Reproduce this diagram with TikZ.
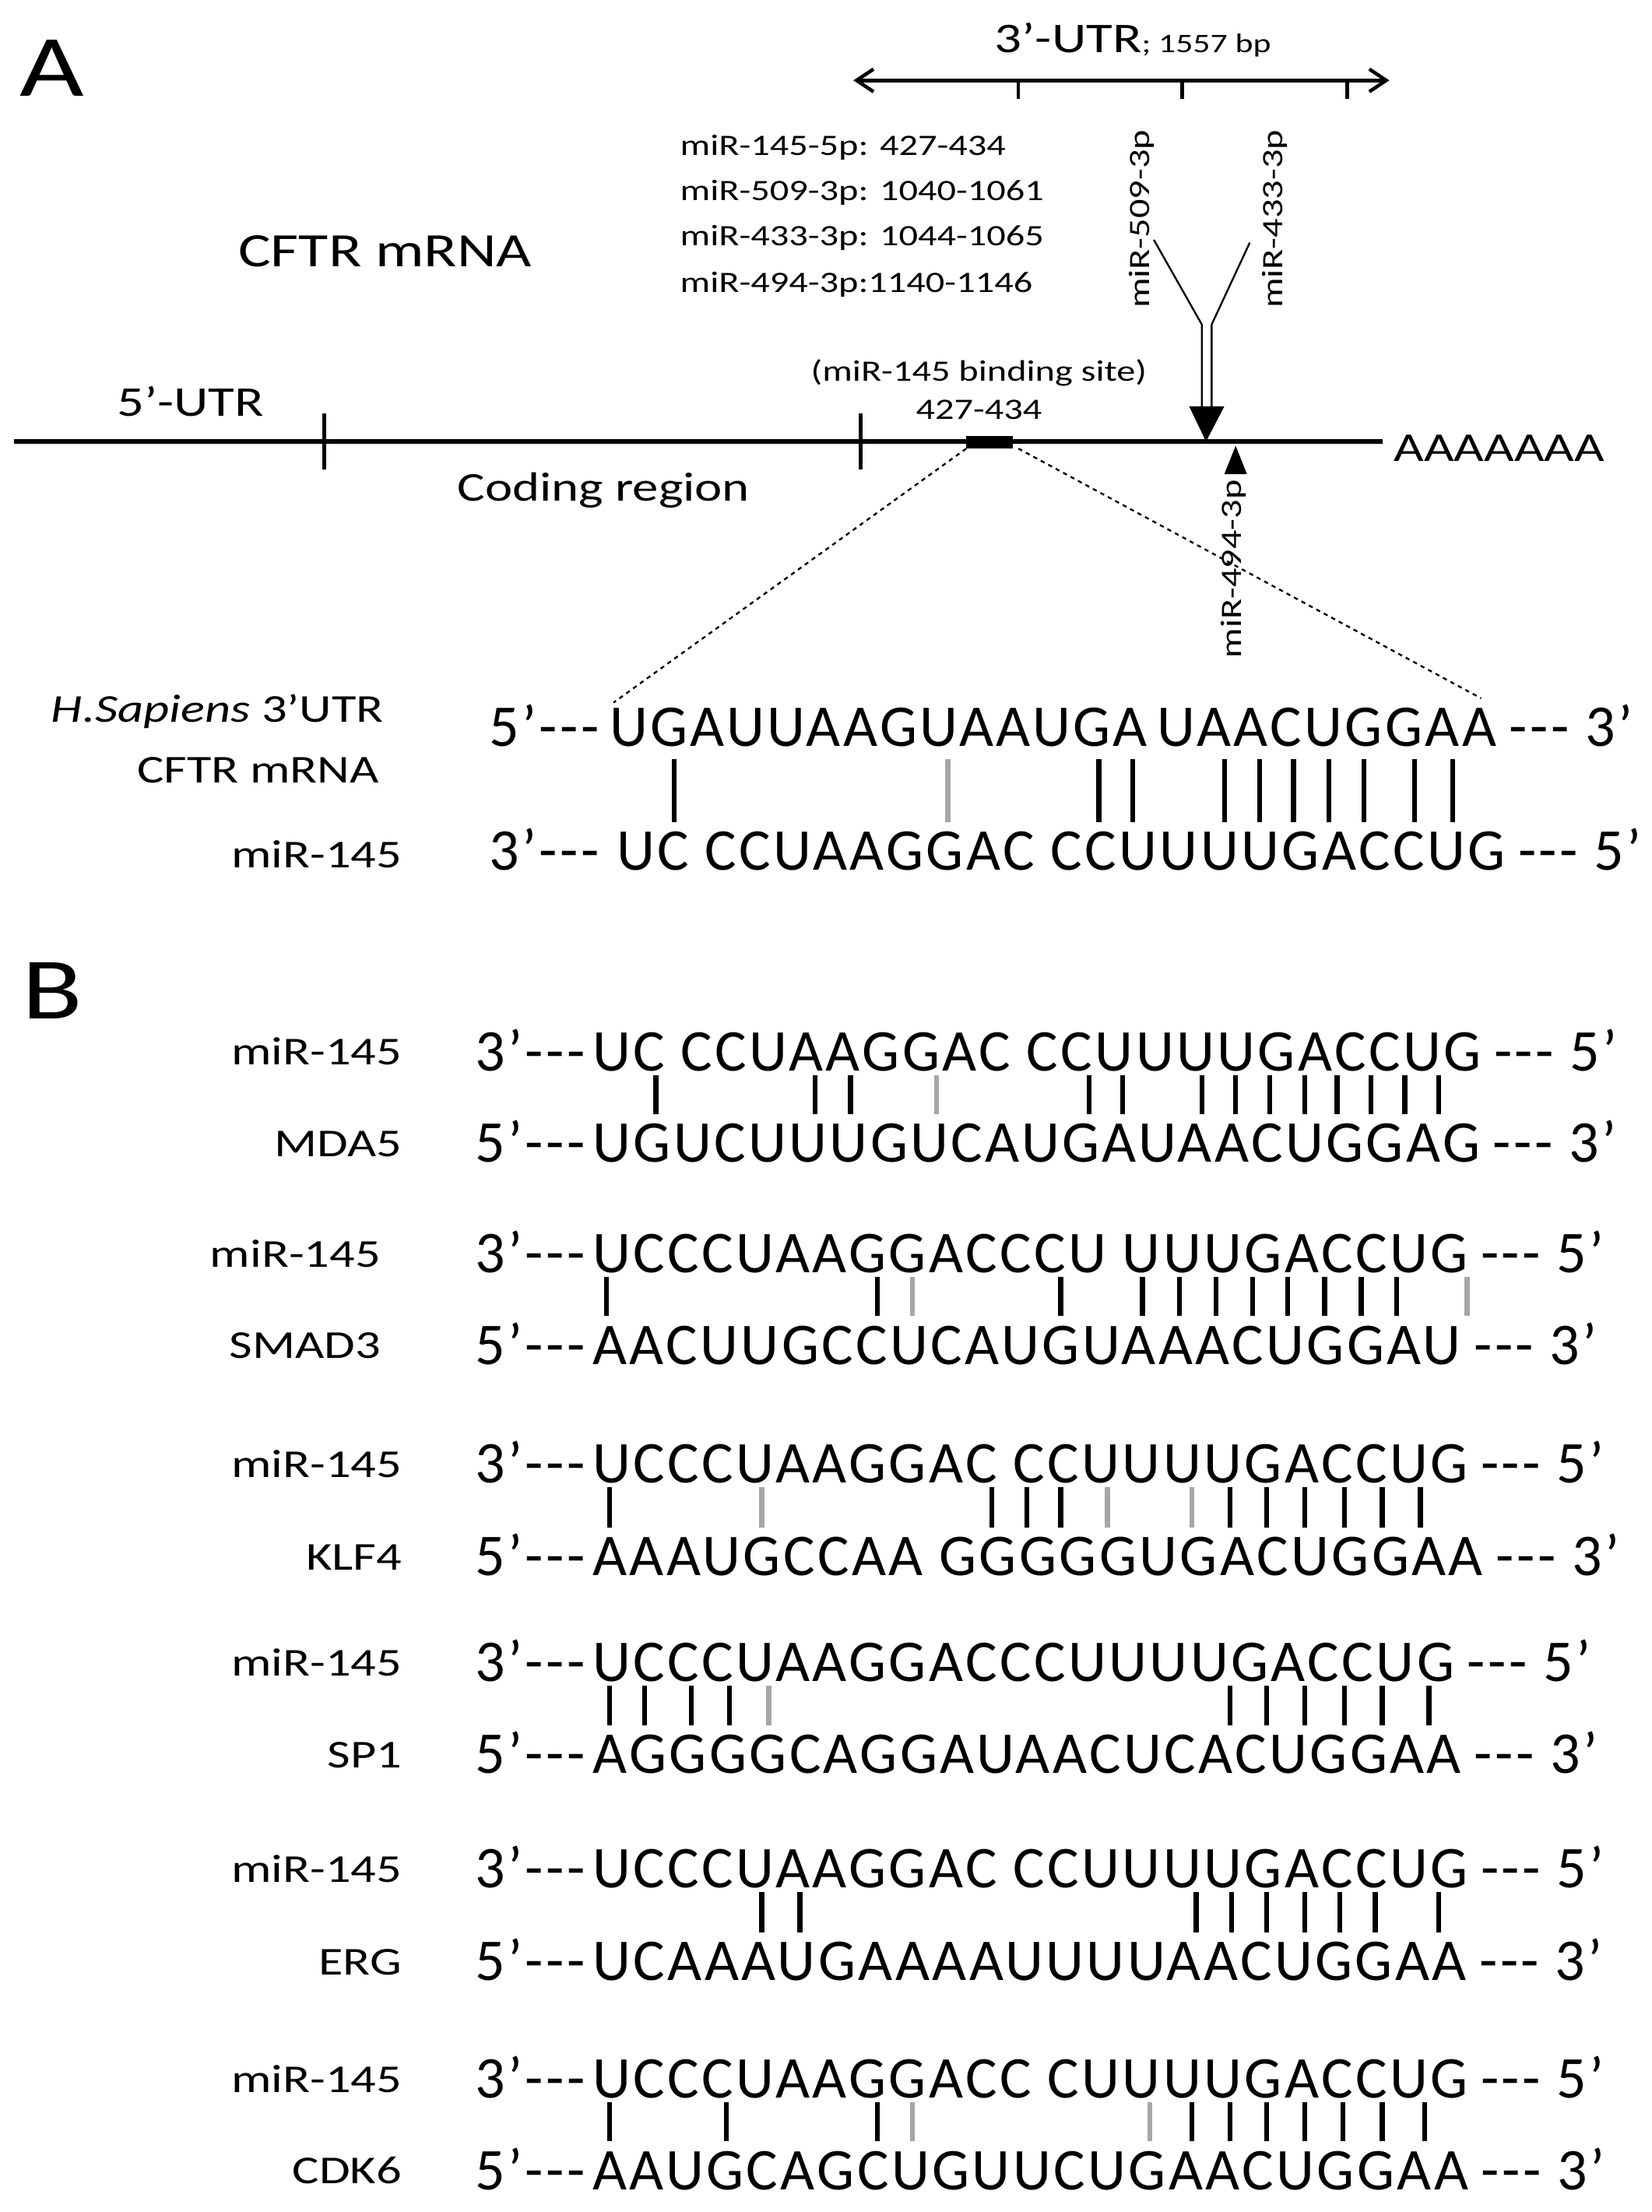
\documentclass[tikz,border=0pt]{standalone}
\usepackage{fontspec}
\setmainfont{Carlito}[FakeStretch=1.27]
\newfontfamily\seqf{Carlito}[LetterSpace=4.5]
\usetikzlibrary{arrows.meta}
\newcommand{\dsh}{-{}-{}-}
\begin{document}
\begin{tikzpicture}[x=1pt,y=-1pt,
 seq/.style={font=\seqf\fontsize{42}{42}\selectfont,inner sep=0,anchor=base west},
 lab/.style={font=\fontsize{28}{28}\selectfont,inner sep=0,anchor=base east},
 sm/.style={font=\fontsize{21}{21}\selectfont,inner sep=0},
 bar/.style={line width=3.5pt},
 gbar/.style={line width=3.5pt,gray!70}]
\useasboundingbox (0,0) rectangle (1171,1568);
\node[font=\fontsize{62}{62}\selectfont,inner sep=0,anchor=base] (A) at (37,68) {A};
\node[font=\fontsize{62}{62}\selectfont,inner sep=0,anchor=base] (B) at (37,722) {B};
% 3'UTR arrow
\coordinate (u1) at (605,57); \coordinate (u2) at (985,57);
\draw[line width=2.5pt,{Straight Barb[length=12pt,width=16pt]}-{Straight Barb[length=12pt,width=16pt]}] (u1) -- (u2);
\foreach \x in {722,838,955} \draw[line width=2.5pt] (\x,57) -- (\x,70);
\node[inner sep=0,anchor=base west] (utr) at (705,37) {\fontsize{30}{30}\selectfont 3’-UTR\fontsize{19}{19}\selectfont; 1557 bp};
\node[sm,anchor=base west] (l1) at (482,110) {miR-145-5p: 427-434};
\node[sm,anchor=base west] (l2) at (482,142) {miR-509-3p: 1040-1061};
\node[sm,anchor=base west] (l3) at (482,174) {miR-433-3p: 1044-1065};
\node[sm,anchor=base west] (l4) at (482,207) {miR-494-3p:1140-1146};
\node[font=\fontsize{34}{34}\selectfont,inner sep=0,anchor=base] (cftr) at (273,189) {CFTR mRNA};
% main line
\coordinate (m1) at (10,313); \coordinate (m2) at (980,313);
\draw[line width=3pt] (m1) -- (m2);
\foreach \x in {230,610} \draw[line width=3pt] (\x,293) -- (\x,333);
\fill (685,309) rectangle (718,318);
\node[font=\fontsize{30}{30}\selectfont,inner sep=0,anchor=base] (u5) at (135,295) {5’-UTR};
\node[font=\fontsize{29}{29}\selectfont,inner sep=0,anchor=base] (cr) at (428,355) {Coding region};
\node[font=\fontsize{29}{29}\selectfont,inner sep=0,anchor=base west] (poly) at (988,327) {AAAAAAA};
\node[sm,anchor=base] (bs1) at (694,270) {(miR-145 binding site)};
\node[sm,anchor=base] (bs2) at (694,297) {427-434};
% Y arrow
\draw[line width=1.3pt] (818,170) -- (852,230) -- (852,290);
\draw[line width=1.3pt] (886,172) -- (859,230) -- (859,290);
\fill (843,288) -- (868,288) -- (855,313) -- cycle;
\node[sm,rotate=90,anchor=base east] (r509) at (815,92) {miR-509-3p};
\node[sm,rotate=90,anchor=base east] (r433) at (909,92) {miR-433-3p};
\fill (876,316) -- (868,336) -- (884,336) -- cycle;
\node[sm,rotate=90,anchor=base east] (r494) at (880,340) {miR-494-3p};
% dashed zoom lines
\draw[dashed,line width=1.3pt] (685,318) -- (435,498);
\draw[dashed,line width=1.3pt] (722,318) -- (1050,495);
% A sequences
\node[lab] (hs) at (272,512) {\textit{H.Sapiens} 3’UTR};
\node[lab,anchor=base] (hs2) at (183,555) {CFTR mRNA};
\node[lab] (m145) at (285,615) {miR-145};
\node[seq,anchor=base east] (p1) at (425,529) {5’\dsh};
\node[seq] (s1) at (432,529) {UGAUUAAGUAAUGA\,UAACUGGAA};
\node[seq] (q1) at ([xshift=9]s1.base east) {\dsh\ 3’};
\node[seq,anchor=base east] (p2) at (425,617) {3’\dsh};
\node[seq] (s2) at (437,617) {UC CCUAAGGAC CCUUUUGACCUG};
\node[seq] (q2) at ([xshift=9]s2.base east) {\dsh\ 5’};
\foreach \x in {478,779,803,868,893,917,942,967,1003,1030} \draw[bar] (\x,538) -- (\x,583);
\draw[gbar] (672,538) -- (672,583);
% B blocks
\foreach \yt/\yb/\lr/\lb/\ts/\bs/\bars/\gbars in {
 745/810/285/MDA5/{UC CCUAAGGAC CCUUUUGACCUG}/{UGUCUUUGUCAUGAUAACUGGAG}/{465,578,603,772,796,852,876,900,925,948,972,996,1020}/{664},
 888/953/270/SMAD3/{UCCCUAAGGACCCU UUUGACCUG}/{AACUUGCCUCAUGUAAACUGGAU}/{430,622,752,810,836,862,888,913,939,965,990}/{647,1040},
 1037/1103/285/KLF4/{UCCCUAAGGAC CCUUUUGACCUG}/{AAAUGCCAA GGGGGUGACUGGAA}/{432,703,728,752,872,898,925,953,980,1007}/{540,785,845},
 1178/1243/285/SP1/{UCCCUAAGGACCCUUUUGACCUG}/{AGGGGCAGGAUAACUCACUGGAA}/{432,457,490,517,872,898,925,953,980,1013}/{545},
 1324/1390/285/ERG/{UCCCUAAGGAC CCUUUUGACCUG}/{UCAAAUGAAAAUUUUAACUGGAA}/{540,567,848,873,898,925,950,975,1020}/{},
 1473/1538/285/CDK6/{UCCCUAAGGACC CUUUUGACCUG}/{AAUGCAGCUGUUCUGAACUGGAA}/{432,515,622,845,872,898,925,952,980,1010}/{647,815}}{
 \node[lab,anchor=base east] at (\lr,\yt+10) {miR-145};
 \node[lab,anchor=base east] at (\lr,\yb+10) {\lb};
 \node[seq,anchor=base east] at (415,\yt+14) {3’\dsh};
 \node[seq] (t) at (420,\yt+14) {\ts};
 \node[seq] at ([xshift=9]t.base east) {\dsh\ 5’};
 \node[seq,anchor=base east] at (415,\yb+14) {5’\dsh};
 \node[seq] (b) at (420,\yb+14) {\bs};
 \node[seq] at ([xshift=9]b.base east) {\dsh\ 3’};
 \foreach \x in \bars \draw[bar] (\x,\yt+17) -- (\x,\yb-20);
 \foreach \x in \gbars \draw[gbar] (\x,\yt+17) -- (\x,\yb-20);
}
\end{tikzpicture}
\end{document}
